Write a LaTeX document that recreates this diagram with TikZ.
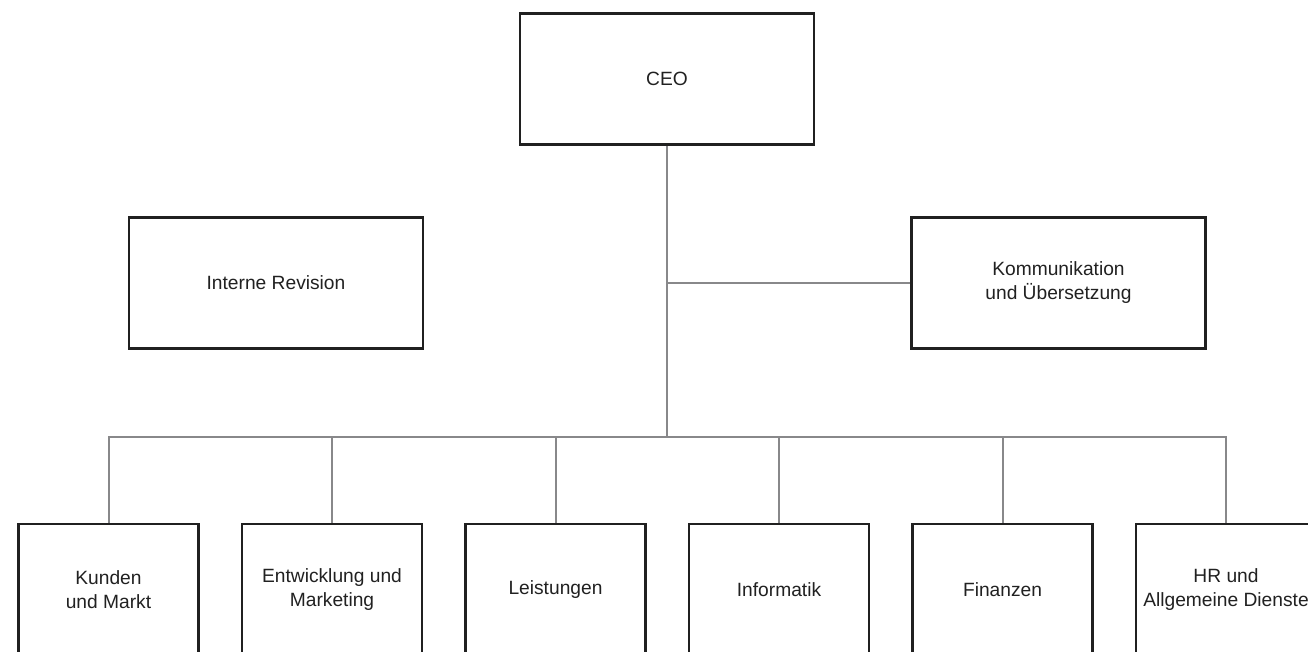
\documentclass[tikz,border=0pt]{standalone}
\usepackage{fontspec}
\setmainfont{Liberation Sans}
\usetikzlibrary{backgrounds}
\definecolor{conncol}{HTML}{88888A}
\definecolor{boxcol}{HTML}{202020}
\begin{document}
\begin{tikzpicture}[x=0.75pt,y=-0.75pt,
  boxstyle/.style={draw=boxcol,line width=1.9pt,fill=white,inner sep=0pt,align=center,
    font=\fontsize{14.4}{18}\selectfont,text=black!87},
  bigbox/.style={boxstyle,minimum width=220.5pt,minimum height=98.25pt},
  smallbox/.style={boxstyle,minimum width=135pt,minimum height=98.25pt},
  conn/.style={draw=conncol,line width=1.5pt}]
\useasboundingbox (0,0) rectangle (1308,652);
\clip (0,0) rectangle (1308,652);
% nodes
\node[bigbox] (ceo) at (667,79) {CEO};
\node[bigbox] (rev) at (276,283) {Interne Revision};
\node[bigbox] (kom) at (1058.5,283) {Kommunikation\\und Übersetzung};
\node[smallbox] (b1) at (108.5,589.5) {Kunden\\und Markt};
\node[smallbox] (b2) at (332,589.5) {Entwicklung und\\Marketing};
\node[smallbox] (b3) at (555.5,589.5) {Leistungen};
\node[smallbox] (b4) at (779,589.5) {Informatik};
\node[smallbox] (b5) at (1002.5,589.5) {Finanzen};
\node[smallbox] (b6) at (1226,589.5) {HR und\\Allgemeine Dienste};
% connectors
\coordinate (bus) at (667,436.5);
\coordinate (jn) at (ceo.south |- kom.west);
\begin{scope}[on background layer]
\fill[white] (0,0) rectangle (1308,652);
\draw[conn] (ceo.south) -- (bus);
\draw[conn] (jn) -- (kom.west);
\draw[conn] (b1.north) |- (bus) -| (b6.north);
\foreach \n in {b2,b3,b4,b5} {
  \draw[conn] (\n.north) -- (\n.north |- bus);
}
\end{scope}
\end{tikzpicture}
\end{document}
